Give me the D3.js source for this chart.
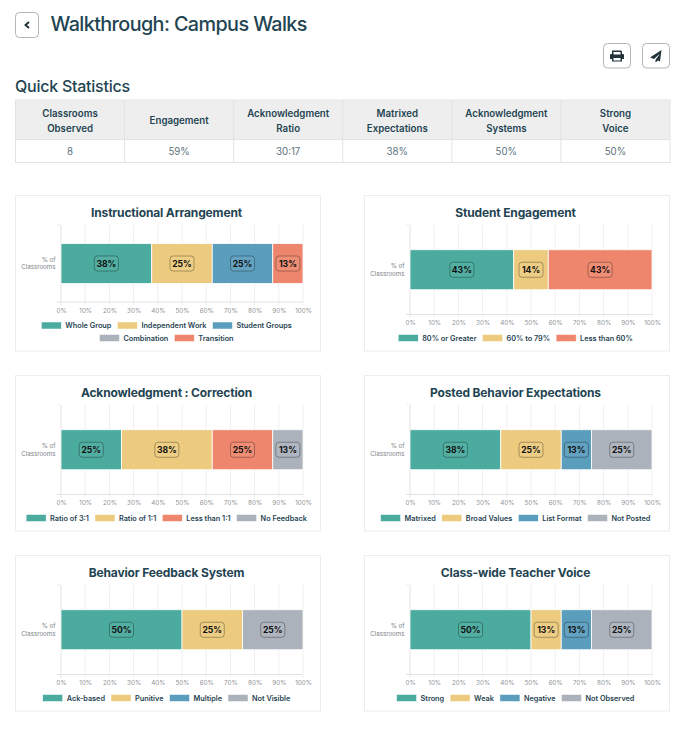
<!DOCTYPE html>
<html>
<head>
<meta charset="utf-8">
<script src="https://cdn.jsdelivr.net/npm/d3@7"></script>
<style>
html, body { margin: 0; padding: 0; background: #fff; }
svg { display: block; font-family: Inter, "Noto Sans", sans-serif; }
</style>
</head>
<body>
<div id="chart"></div>
<script>
// quick statistics table
var statHeaders = [["Classrooms", "Observed"], ["Engagement"], ["Acknowledgment", "Ratio"], ["Matrixed", "Expectations"], ["Acknowledgment", "Systems"], ["Strong", "Voice"]];
var statValues = ["8", "59%", "30:17", "38%", "50%", "50%"];

// chart titles, in page order
var chartTitles = ["Instructional Arrangement", "Student Engagement", "Acknowledgment : Correction", "Posted Behavior Expectations", "Behavior Feedback System", "Class-wide Teacher Voice"];

// legend labels per chart
var seriesNames = [
  ["Whole Group", "Independent Work", "Student Groups", "Combination", "Transition"],
  ["80% or Greater", "60% to 79%", "Less than 60%"],
  ["Ratio of 3:1", "Ratio of 1:1", "Less than 1:1", "No Feedback"],
  ["Matrixed", "Broad Values", "List Format", "Not Posted"],
  ["Ack-based", "Punitive", "Multiple", "Not Visible"],
  ["Strong", "Weak", "Negative", "Not Observed"]
];

// percent of classrooms per chart
var seriesValues = [
  [37.5, 25, 25, 0, 12.5],
  [42.86, 14.28, 42.86],
  [25, 37.5, 25, 12.5],
  [37.5, 25, 12.5, 25],
  [50, 25, 0, 25],
  [50, 12.5, 12.5, 25]
];

// colour key per chart
var seriesColors = [
  ["teal", "yellow", "blue", "gray", "salmon"],
  ["teal", "yellow", "salmon"],
  ["teal", "yellow", "salmon", "gray"],
  ["teal", "yellow", "blue", "gray"],
  ["teal", "yellow", "blue", "gray"],
  ["teal", "yellow", "blue", "gray"]
];

var xTicks = [0, 10, 20, 30, 40, 50, 60, 70, 80, 90, 100];

var palette = {teal: "#4aab9e", yellow: "#edcb7e", blue: "#5a9dbd", gray: "#abb2bb", salmon: "#ee866d"};
var ink = "#1f4452";
var legendFont = 7.3;
var legendGap = 6;

var svg = d3.select("#chart").append("svg")
    .attr("width", 688)
    .attr("height", 730);

//page header
svg.append("rect")
    .attr("x", 15.5).attr("y", 12.5).attr("width", 23).attr("height", 25).attr("rx", 4)
    .attr("fill", "#fff").attr("stroke", "#b5b5b5");
svg.append("path")
    .attr("d", "M29 22 L25.5 25 L29 28")
    .attr("fill", "none").attr("stroke", "#1b2b33").attr("stroke-width", 1.8);
svg.append("text")
    .attr("x", 50.5).attr("y", 31)
    .attr("font-size", 19.8).attr("font-weight", 500).attr("letter-spacing", -0.6).attr("fill", ink)
    .text("Walkthrough: Campus Walks");

//print and send buttons
[603, 642].forEach(function(bx) {
  svg.append("rect")
      .attr("x", bx + 0.5).attr("y", 43.5).attr("width", 27).attr("height", 24.5).attr("rx", 4)
      .attr("fill", "#fff").attr("stroke", "#b5b5b5");
});
svg.append("path")
    .attr("fill", "#22333b").attr("fill-rule", "evenodd")
    .attr("d", "M612 50.5 h9 l1 1 v2.5 h1 a1 1 0 0 1 1 1 v4 h-2 v2.5 h-10 v-2.5 h-2 v-4 a1 1 0 0 1 1 -1 h1 z M613.5 52 v2.5 h7 v-2.5 z M613.5 58 v2.5 h7 v-2.5 z");
svg.append("path")
    .attr("fill", "#22333b")
    .attr("d", "M661.5 50 L650 57.5 L654 59 L660 53.5 L655.5 60 L655.5 62.5 L658 60.5 L660 61.5 z");

svg.append("text")
    .attr("x", 15).attr("y", 92)
    .attr("font-size", 16).attr("font-weight", 500).attr("letter-spacing", -0.25).attr("fill", ink)
    .text("Quick Statistics");

//stats table
var colX = d3.scaleLinear().domain([0, statHeaders.length]).range([15.5, 670]);
var table = svg.append("g");
table.append("rect")
    .attr("x", 15.5).attr("y", 100).attr("width", 654.5).attr("height", 40)
    .attr("fill", "#eeeeee");
table.append("rect")
    .attr("x", 15.5).attr("y", 100).attr("width", 654.5).attr("height", 62.5)
    .attr("fill", "none").attr("stroke", "#e3e3e3");
table.append("line")
    .attr("x1", 15.5).attr("x2", 670).attr("y1", 139.5).attr("y2", 139.5)
    .attr("stroke", "#e3e3e3");
statHeaders.forEach(function(lines, i) {
  var cx = (colX(i) + colX(i + 1)) / 2;
  if (i > 0) {
    table.append("line")
        .attr("x1", colX(i)).attr("x2", colX(i)).attr("y1", 100).attr("y2", 162.5)
        .attr("stroke", "#e3e3e3");
  }
  lines.forEach(function(t, j) {
    table.append("text")
        .attr("x", cx)
        .attr("y", lines.length == 1 ? 124 : 116.5 + j * 15)
        .attr("text-anchor", "middle")
        .attr("font-size", 9.7).attr("font-weight", 600).attr("fill", ink)
        .text(t);
  });
  table.append("text")
      .attr("x", cx).attr("y", 155)
      .attr("text-anchor", "middle")
      .attr("font-size", 9.7).attr("fill", "#5a707b")
      .text(statValues[i]);
});

//one card per chart
var cardX = [15.5, 364.5];
var cardY = [195.5, 375.5, 555.5];
chartTitles.forEach(function(title, i) {
  drawCard(cardX[i % 2], cardY[Math.floor(i / 2)], title, seriesNames[i], seriesValues[i], seriesColors[i]);
});

function drawCard(left, top, title, names, values, colors) {
  var g = svg.append("g").attr("transform", "translate(" + left + "," + top + ")");
  var cardW = 305, cardH = 155.5;

  g.append("rect")
      .attr("width", cardW).attr("height", cardH)
      .attr("fill", "#fff").attr("stroke", "#ececec");

  g.append("text")
      .attr("x", 151).attr("y", 21)
      .attr("text-anchor", "middle")
      .attr("font-size", 12).attr("font-weight", 700).attr("letter-spacing", -0.15).attr("fill", ink)
      .text(title);

  //work out the legend rows first, the plot gets what is left
  var rows = legendRows(g, names);
  var plotTop = 29.5;
  var plotBottom = rows.length > 1 ? 106.5 : 119;

  var x = d3.scaleLinear().domain([0, 100]).range([45.5, 287.5]);
  var y = d3.scaleBand().domain(["% of Classrooms"]).range([plotTop, plotBottom]);
  var barY = y("% of Classrooms") + y.bandwidth() / 2 - 20;

  //grid
  g.append("g").selectAll("line")
      .data(xTicks)
      .enter().append("line")
      .attr("x1", function(d) { return x(d); })
      .attr("x2", function(d) { return x(d); })
      .attr("y1", plotTop)
      .attr("y2", plotBottom + 3)
      .attr("stroke", function(d) { return d == 0 ? "#e2e2e2" : "#efefef"; });
  g.append("line")
      .attr("x1", x(0) - 4).attr("x2", x(100))
      .attr("y1", plotBottom).attr("y2", plotBottom)
      .attr("stroke", "#e2e2e2");
  g.append("line")
      .attr("x1", x(0) - 4).attr("x2", x(0))
      .attr("y1", plotTop).attr("y2", plotTop)
      .attr("stroke", "#efefef");

  //x axis labels
  var axis = g.append("g")
      .attr("transform", "translate(0," + plotBottom + ")")
      .call(d3.axisBottom(x).tickValues(xTicks).tickSize(0).tickPadding(6.5).tickFormat(function(d) { return d + "%"; }));
  axis.select(".domain").remove();
  axis.selectAll("text")
      .attr("font-family", "Inter, sans-serif")
      .attr("font-size", 6.3).attr("fill", "#8f9397");

  //y label
  ["% of", "Classrooms"].forEach(function(t, j) {
    g.append("text")
        .attr("x", 40).attr("y", y("% of Classrooms") + y.bandwidth() / 2 - 1.8 + j * 7.7)
        .attr("text-anchor", "end")
        .attr("font-size", 6.2).attr("fill", "#7d8286")
        .text(t);
  });

  //stacked bar
  var row = {};
  names.forEach(function(n, k) { row[n] = values[k]; });
  var series = d3.stack().keys(names)([row]);
  var color = d3.scaleOrdinal().domain(names).range(colors.map(function(c) { return palette[c]; }));

  var segs = g.append("g").selectAll("g")
      .data(series.filter(function(s) { return s[0][1] > s[0][0]; }))
      .enter().append("g");
  segs.append("rect")
      .attr("x", function(d) { return x(d[0][0]); })
      .attr("y", barY)
      .attr("width", function(d) { return x(d[0][1]) - x(d[0][0]); })
      .attr("height", 40)
      .attr("fill", function(d) { return color(d.key); })
      .attr("stroke", "#fff").attr("stroke-width", 0.8);
  segs.append("rect")
      .attr("x", function(d) { return (x(d[0][0]) + x(d[0][1])) / 2 - 12; })
      .attr("y", barY + 12.5)
      .attr("width", 24).attr("height", 15).attr("rx", 3)
      .attr("fill", "#fff").attr("fill-opacity", 0.06)
      .attr("stroke", "#000").attr("stroke-opacity", 0.35).attr("stroke-width", 0.9);
  segs.append("text")
      .attr("x", function(d) { return (x(d[0][0]) + x(d[0][1])) / 2; })
      .attr("y", barY + 23.2)
      .attr("text-anchor", "middle")
      .attr("font-size", 8.6).attr("font-weight", 700).attr("fill", "#111")
      .text(function(d) { return Math.round(d[0][1] - d[0][0]) + "%"; });

  //legend
  var legendTop = plotBottom + 23;
  rows.forEach(function(r, ri) {
    var px = 151 - r.width / 2;
    r.items.forEach(function(it) {
      var k = names.indexOf(it.name);
      g.append("rect")
          .attr("x", px).attr("y", legendTop + ri * 12.5 - 3)
          .attr("width", 20).attr("height", 7)
          .attr("fill", palette[colors[k]]).attr("stroke", "#fff").attr("stroke-width", 0.5);
      g.append("text")
          .attr("x", px + 24).attr("y", legendTop + ri * 12.5 + 3)
          .attr("font-size", legendFont).attr("font-weight", 600).attr("fill", ink)
          .text(it.name);
      px += it.width + legendGap;
    });
  });
}

//greedy wrap of legend items, centred by the caller
function legendRows(g, names) {
  var probe = g.append("text").attr("font-size", legendFont).attr("font-weight", 600);
  var rows = [{items: [], width: 0}];
  names.forEach(function(n) {
    probe.text(n);
    var w = 24 + probe.node().getComputedTextLength();
    var cur = rows[rows.length - 1];
    if (cur.items.length && cur.width + legendGap + w > 296) {
      cur = {items: [], width: 0};
      rows.push(cur);
    }
    cur.width += (cur.items.length ? legendGap : 0) + w;
    cur.items.push({name: n, width: w});
  });
  probe.remove();
  return rows;
}
</script>
</body>
</html>
